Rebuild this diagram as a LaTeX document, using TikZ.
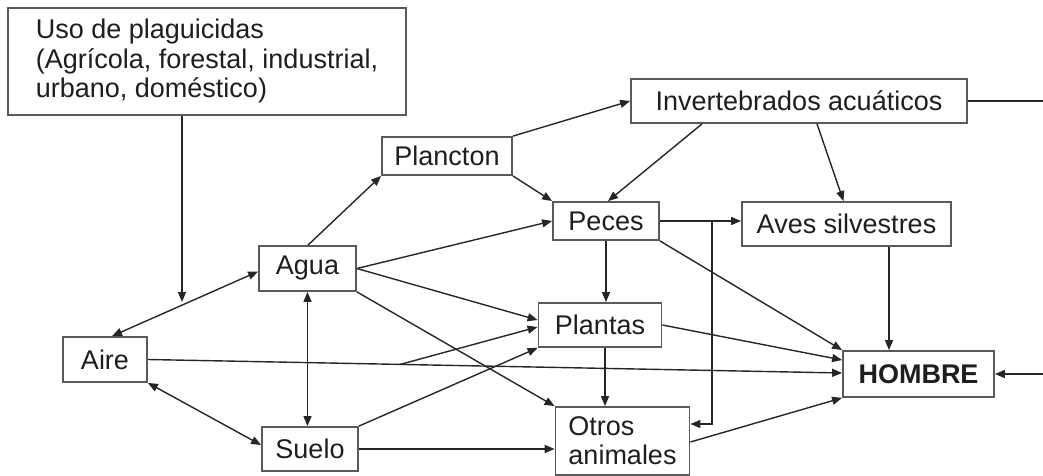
\documentclass[tikz,border=0pt]{standalone}
\usepackage{fontspec}
\setmainfont{Liberation Sans}
\usetikzlibrary{arrows.meta,calc}
\definecolor{boxc}{HTML}{5A5A5A}
\definecolor{linec}{HTML}{262626}
\definecolor{txtc}{HTML}{1E1E1E}
\begin{document}
\begin{tikzpicture}[x=1pt,y=-1pt,
  box/.style={draw=boxc, line width=1.8pt, inner sep=0pt, text=txtc, font=\fontsize{27}{29.5}\selectfont},
  arr/.style={draw=linec, line width=1.4pt, -{Triangle[length=10pt,width=8pt]}},
  darr/.style={draw=linec, line width=1.4pt, {Triangle[length=10pt,width=8pt]}-{Triangle[length=10pt,width=8pt]}}]
\useasboundingbox (0,0) rectangle (1043,476);
\clip (0,0) rectangle (1043,476);
% nodes
\node[box, minimum width=398, minimum height=107, align=left] (uso) at (207,61.5) {Uso de plaguicidas\\(Agrícola, forestal, industrial,\\urbano, doméstico)};
\node[box, minimum width=336, minimum height=44] (inv) at (799,101) {Invertebrados acuáticos};
\node[box, minimum width=130, minimum height=38] (plan) at (447,156) {Plancton};
\node[box, minimum width=106, minimum height=38] (peces) at (606,221) {Peces};
\node[box, minimum width=209, minimum height=44] (aves) at (846.5,224) {Aves silvestres};
\node[box, minimum width=97, minimum height=45] (agua) at (307.5,268.5) {Agua};
\node[box, minimum width=123, minimum height=44] (plantas) at (600,325) {Plantas};
\node[box, minimum width=84, minimum height=45] (aire) at (105,359.5) {Aire};
\node[box, minimum width=151, minimum height=46, font=\fontsize{27}{29}\selectfont\bfseries] (hombre) at (918.5,374) {HOMBRE};
\node[box, minimum width=96, minimum height=44] (suelo) at (310,449) {Suelo};
\node[box, minimum width=134, minimum height=68, align=left, font=\fontsize{27}{29}\selectfont] (otros) at (622.5,441) {Otros\\animales};
% connectors
\coordinate (usoend) at (182,302);
\draw[arr] (usoend |- uso.south) -- (usoend);
\draw[darr] ([xshift=7pt]aire.north) -- ([yshift=-3pt]agua.west);
\draw[arr] ([xshift=0.5pt]agua.north) -- (plan.south west);
\draw[arr] (plan.north east) -- (inv.west);
\draw[arr] (plan.south east) -- (peces.north west);
\draw[arr] ([xshift=-97pt]inv.south) -- ([xshift=2pt]peces.north);
\draw[arr] ([xshift=18pt]inv.south) -- ([xshift=-3pt]aves.north);
\coordinate (edge1) at (1060,101);
\draw[arr] (inv.east) -- (edge1) |- (hombre.east);
\draw[arr] (peces.east) -- (peces.east -| aves.west);
\coordinate (pecesx) at (712,221);
\draw[arr] (peces.east) -- (pecesx) |- ([yshift=17pt]otros.east);
\draw[arr] (peces.south) -- (peces.south |- plantas.north);
\draw[arr] (peces.south east) -- (hombre.north west);
\coordinate (avesx) at ([xshift=42.5pt]aves.south);
\draw[arr] (avesx) -- (avesx |- hombre.north);
\draw[arr] (agua.east) -- (peces.west);
\draw[arr] (agua.east) -- ([yshift=5pt]plantas.west);
\draw[arr] (agua.south east) -- (otros.north west);
\draw[darr] (agua.south) -- (agua.south |- suelo.north);
\coordinate (ah) at ([yshift=1pt]hombre.west);
\draw[arr] (aire.east) -- (ah);
\coordinate (br) at ($(aire.east)!0.3635!(ah)$);
\draw[arr] (br) -- ([yshift=-2pt]plantas.west);
\draw[arr] (suelo.north east) -- (plantas.south west);
\draw[arr] (suelo.east) -- (suelo.east -| otros.west);
\coordinate (plx) at ([xshift=5pt]plantas.south);
\draw[arr] (plx) -- (plx |- otros.north);
\draw[arr] (plantas.east) -- ([yshift=14pt]hombre.west);
\draw[arr] ([yshift=-1pt]otros.east) -- (hombre.south west);
\draw[darr] (aire.south east) -- ([yshift=4pt]suelo.west);
\end{tikzpicture}
\end{document}
